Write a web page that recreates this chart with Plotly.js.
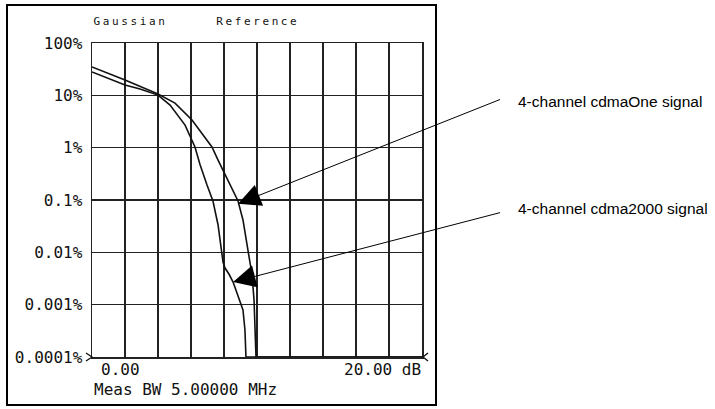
<!DOCTYPE html>
<html>
<head>
<meta charset="utf-8">
<script src="https://cdn.plot.ly/plotly-3.0.1.min.js"></script>
<style>
  html, body { margin: 0; padding: 0; background: #fff; }
  #chart { width: 715px; height: 409px; }
  g.annotation[data-index="0"] text, g.annotation[data-index="1"] text { letter-spacing: 2.6px; }
</style>
</head>
<body>
<div id="chart"></div>
<script>
// Power above average (dB) and probability (%) for each signal
var xOne  = [0, 2.0, 4.0, 5.03, 6.06, 6.67, 7.27, 7.64, 7.94, 8.42, 8.85, 9.15, 9.45, 9.70, 9.82, 9.88, 9.94, 20];
var yOne  = [34.8, 19.6, 10.6, 7.1, 3.38, 1.9, 1.03, 0.58, 0.374, 0.193, 0.0957, 0.0415, 0.0111, 0.00369, 0.00123, 0.000328, 0.0001, 0.0001];
var x2000 = [0, 1.09, 2.0, 2.91, 4.0, 4.73, 5.64, 6.24, 6.55, 6.97, 7.33, 7.64, 7.88, 7.94, 8.06, 8.30, 8.55, 8.85, 9.15, 9.27, 9.33, 20];
var y2000 = [27.9, 20.5, 15.7, 13.2, 10.1, 6.5, 2.7, 1.03, 0.47, 0.193, 0.0957, 0.0333, 0.0097, 0.00653, 0.00501, 0.00385, 0.00271, 0.00153, 0.00079, 0.000328, 0.0001, 0.0001];

var yTickVals = [100, 10, 1, 0.1, 0.01, 0.001, 0.0001];
var yTickText = ['100%', '10%', '1%', '0.1%', '0.01%', '0.001%', '0.0001%'];

var labelOne = '4-channel cdmaOne signal';
var label2000 = '4-channel cdma2000 signal';

var mono = 'DejaVu Sans Mono, monospace';
var lineStyle = {color: '#111', width: 1.6};

var traces = [
  {x: xOne, y: yOne, mode: 'lines', line: lineStyle, name: labelOne, cliponaxis: false, hoverinfo: 'skip'},
  {x: x2000, y: y2000, mode: 'lines', line: lineStyle, name: label2000, cliponaxis: false, hoverinfo: 'skip'}
];

var W = 330, H = 314;
function px(v){ return v / W; }
function py(v){ return v / H; }
function chevron(pts){
  return pts.map(function(p, i){ return (i ? 'L' : 'M') + px(p[0] - 92).toFixed(4) + ',' + py(357 - p[1]).toFixed(4); }).join(' ');
}

var labelFont = {family: 'Liberation Sans, Arial, sans-serif', size: 15.5, color: '#000'};

var layout = {
  width: 715, height: 409,
  margin: {l: 92, r: 293, t: 43, b: 52},
  paper_bgcolor: '#fff', plot_bgcolor: '#fff',
  showlegend: false,
  font: {family: mono, color: '#111', size: 15},
  xaxis: {
    range: [0, 20], dtick: 2, tick0: 0, showgrid: true, gridcolor: '#222', gridwidth: 1.4,
    showline: true, mirror: true, linecolor: '#222', linewidth: 1.5,
    showticklabels: false, ticks: '', zeroline: false, fixedrange: true
  },
  yaxis: {
    type: 'log', range: [-4, 2], tickvals: yTickVals, ticktext: yTickText,
    showgrid: true, gridcolor: '#222', gridwidth: 1.4,
    showline: true, mirror: true, linecolor: '#222', linewidth: 1.5,
    ticks: '', ticklabelstandoff: 5, tickfont: {family: mono, size: 16, color: '#111'},
    zeroline: false, fixedrange: true
  },
  shapes: [
    {type: 'rect', xref: 'paper', yref: 'paper',
     x0: px(7 - 92), x1: px(436 - 92), y0: py(357 - 405), y1: py(357 - 5),
     line: {color: '#000', width: 2}, fillcolor: 'rgba(0,0,0,0)'},
    {type: 'path', xref: 'paper', yref: 'paper', path: chevron([[86, 353], [92, 357], [86, 361]]),
     line: {color: '#111', width: 1.3}},
    {type: 'path', xref: 'paper', yref: 'paper', path: chevron([[428, 353], [423, 357], [428, 361]]),
     line: {color: '#111', width: 1.3}}
  ],
  annotations: [
    {xref: 'paper', yref: 'paper', x: px(130 - 92), y: py(357 - 22), xanchor: 'center', yanchor: 'middle',
     text: 'Gaussian', showarrow: false, font: {family: mono, size: 11, color: '#111'}},
    {xref: 'paper', yref: 'paper', x: px(258 - 92), y: py(357 - 22), xanchor: 'center', yanchor: 'middle',
     text: 'Reference', showarrow: false, font: {family: mono, size: 11, color: '#111'}},
    {xref: 'paper', yref: 'paper', x: px(99 - 92), y: py(357 - 369), xanchor: 'left', yanchor: 'middle',
     text: '0.00', showarrow: false, font: {family: mono, size: 16, color: '#111'}},
    {xref: 'paper', yref: 'paper', x: px(423 - 92), y: py(357 - 369), xanchor: 'right', yanchor: 'middle',
     text: '20.00 dB', showarrow: false, font: {family: mono, size: 16, color: '#111'}},
    {xref: 'paper', yref: 'paper', x: 0, y: py(357 - 389), xanchor: 'left', yanchor: 'middle',
     text: 'Meas BW 5.00000 MHz', showarrow: false, font: {family: mono, size: 16, color: '#111'}},
    // arrows
    {x: 8.85, y: Math.log10(0.085), xref: 'x', yref: 'y', text: ' ', showarrow: true,
     ax: 264, ay: -105, arrowhead: 2, arrowsize: 4.5, arrowwidth: 1, arrowcolor: '#000', font: {size: 1}},
    {x: 8.55, y: Math.log10(0.0027), xref: 'x', yref: 'y', text: ' ', showarrow: true,
     ax: 269, ay: -70, arrowhead: 2, arrowsize: 4.5, arrowwidth: 1, arrowcolor: '#000', font: {size: 1}},
    // labels
    {xref: 'paper', yref: 'paper', x: px(516 - 92), y: py(357 - 102), xanchor: 'left', yanchor: 'middle',
     text: labelOne, showarrow: false, font: labelFont},
    {xref: 'paper', yref: 'paper', x: px(516 - 92), y: py(357 - 208), xanchor: 'left', yanchor: 'middle',
     text: label2000, showarrow: false, font: labelFont}
  ]
};

Plotly.newPlot('chart', traces, layout, {staticPlot: true, displayModeBar: false});
</script>
</body>
</html>
